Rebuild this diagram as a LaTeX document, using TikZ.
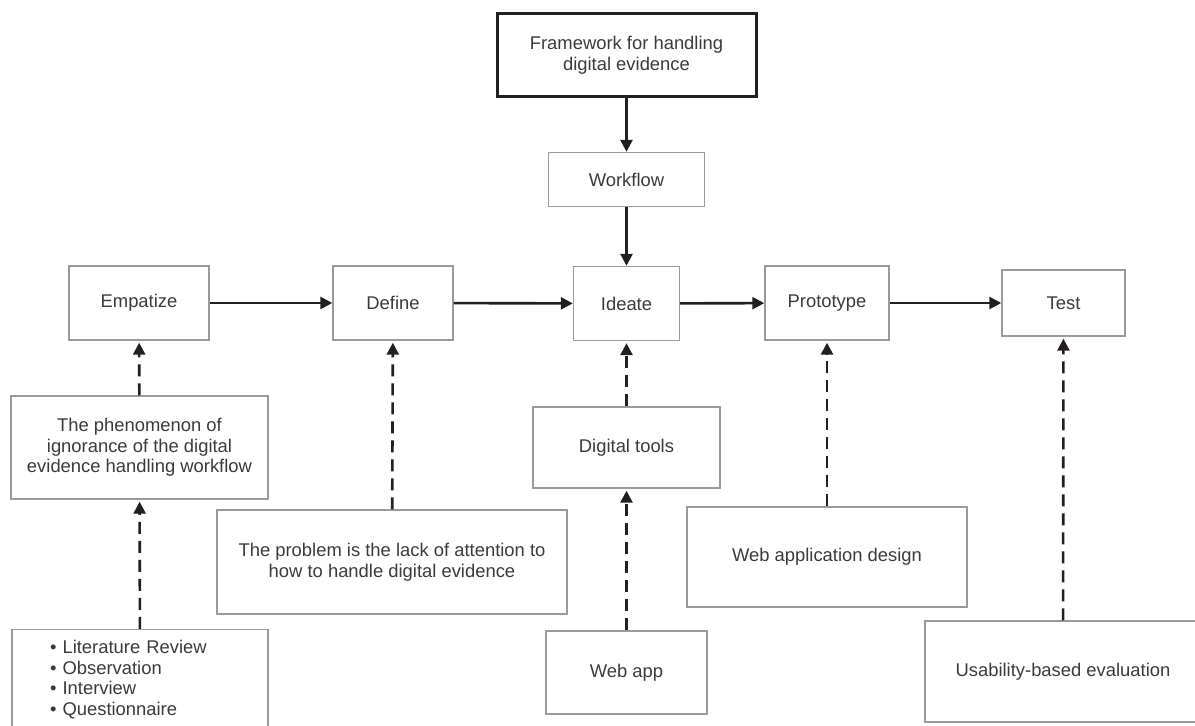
\documentclass[tikz,border=0pt]{standalone}
\usepackage{fontspec}
\setmainfont{Liberation Sans}
\usepackage{tikz}
\usetikzlibrary{arrows.meta}
\definecolor{inkline}{HTML}{231F20}
\definecolor{boxline}{HTML}{9A9A9A}
\definecolor{txtgray}{HTML}{3A3A3A}
\tikzstyle{box} = [ rectangle, draw = boxline, line width = 0.7pt, %
                    text = txtgray, align = center, inner sep = 2pt, %
                    font = \fontsize{9.2}{10.3}\selectfont ]
\tikzstyle{mainbox} = [box, draw = inkline, line width = 1.5pt]
\tikzstyle{rowbox} = [box, minimum height = 37pt]
\tikzstyle{arrow} = [line width = 1.3pt, color = inkline, ->, %
                     >={Triangle[length=6pt,width=6pt]}]
\tikzstyle{dasharrow} = [arrow, dash pattern = on 6pt off 3.5pt, shorten > = 1pt]
\begin{document}
\begin{tikzpicture}[x=1pt, y=1pt, node distance = 62pt]
      \useasboundingbox (0,0) rectangle (597.5,-363);
      % Boxes
      \node (frame) [mainbox, minimum width=129.5pt, minimum height=41.5pt] at (313.25,-27.75)
            {Framework for handling\\digital evidence};
      \node (flow) [box, below of=frame, minimum width=78pt, minimum height=27pt] {Workflow};
      \node (ideate) [rowbox, below of=flow, minimum width=53pt] {Ideate};
      \node (empat) [rowbox, minimum width=70pt] at (69.5,-151.5) {Empatize};
      \node (define) [rowbox, minimum width=60pt] at (196.5,-151.5) {Define};
      \node (proto) [rowbox, minimum width=62pt] at (413.5,-151.5) {Prototype};
      \node (test) [box, minimum width=61.5pt, minimum height=33pt] at (531.75,-151.5) {Test};
      \node (phenom) [box, minimum width=128.5pt, minimum height=51.5pt] at (69.75,-223.75)
            {The phenomenon of\\ignorance of the digital\\evidence handling workflow};
      \node (methods) [box, anchor=north, align=left, text width=90pt, inner xsep=19pt, %
            minimum height=50pt] at (70,-314.5)
            {• Literature Review\\• Observation\\• Interview\\• Questionnaire};
      \node (problem) [box, minimum width=175pt, minimum height=52pt] at (196,-281)
            {The problem is the lack of attention to\\how to handle digital evidence};
      \node (tools) [box, minimum width=93.5pt, minimum height=40.5pt] at (313.25,-223.75) {Digital tools};
      \node (webapp) [box, minimum width=80.5pt, minimum height=41.5pt] at (313.25,-336.25) {Web app};
      \node (design) [box, minimum width=140pt, minimum height=50pt] at (413.5,-278.5) {Web application design};
      \node (usab) [box, minimum width=138pt, minimum height=50.5pt] at (531.5,-335.75) {Usability-based evaluation};
      % Arrows
      \draw [arrow] (frame) -- (flow);
      \draw [arrow] (flow) -- (ideate);
      \draw [arrow] (empat) -- (define);
      \draw [arrow] (define) -- (ideate);
      \draw [arrow] (ideate) -- (proto);
      \draw [arrow] (proto) -- (test);
      \draw [dasharrow] (phenom) -- (empat);
      \draw [dasharrow] (methods) -- (phenom);
      \draw [dasharrow] (problem) -- (define);
      \draw [dasharrow] (tools) -- (ideate);
      \draw [dasharrow] (webapp) -- (tools);
      \draw [dasharrow] (design) -- (proto);
      \draw [dasharrow] (usab) -- (test);
\end{tikzpicture}
\end{document}
